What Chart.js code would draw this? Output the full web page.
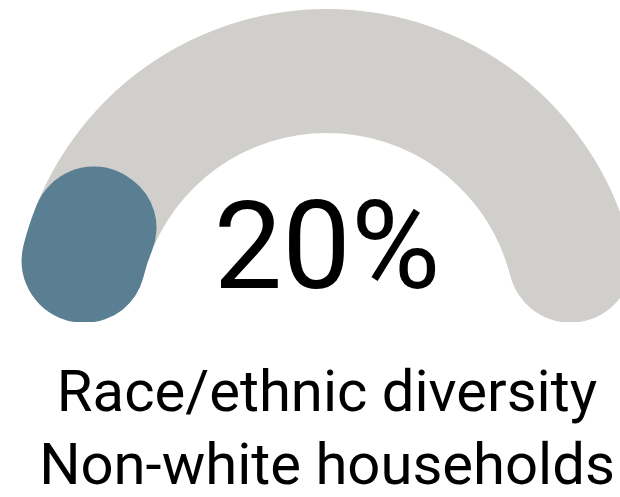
<!DOCTYPE html>
<html>
<head>
<meta charset="utf-8">
<script src="https://cdn.jsdelivr.net/npm/chart.js@4"></script>
<style>
    html, body { margin: 0; padding: 0; background: #fff; overflow: hidden; }
    body { width: 620px; height: 497px; position: relative; font-family: Roboto, sans-serif; }
    .gauge { position: absolute; left: 14px; top: 9px; width: 626px; height: 313px; }
    .gauge canvas { position: absolute; left: 0; top: 0; }
    #value { position: absolute; left: 0; width: 654px; top: 177px; text-align: center; font-size: 122px; line-height: 140px; color: #000; }
    .caption { position: absolute; left: 0; width: 654px; text-align: center; font-size: 58px; line-height: 60px; color: #000; white-space: nowrap; }
</style>
</head>
<body>
<div class="gauge"><canvas id="trackChart"></canvas></div>
<div class="gauge"><canvas id="valueChart"></canvas></div>
<div id="value"></div>
<div class="caption" id="line1" style="top: 361px;"></div>
<div class="caption" id="line2" style="top: 434px;"></div>
<script>
var gaugeValue = [20];
var gaugeMax = [100];
var captionLines = ['Race/ethnic diversity', 'Non-white households'];
var trackColor = '#d0cfcb';
var valueColor = '#5a7e92';

document.addEventListener('DOMContentLoaded', function () {
    document.getElementById('value').textContent = gaugeValue[0] + '%';
    document.getElementById('line1').textContent = captionLines[0];
    document.getElementById('line2').textContent = captionLines[1];

    // shared half-doughnut settings, both rings sit on the same radius
    function gaugeOptions() {
        return {
            responsive: true,
            maintainAspectRatio: false,
            animation: false,
            circumference: 180,
            rotation: -90,
            cutout: '60.4%',
            layout: { padding: 0 },
            plugins: { legend: { display: false }, tooltip: { enabled: false } }
        };
    }

    // grey track, full range
    new Chart(document.getElementById('trackChart').getContext('2d'), {
        type: 'doughnut',
        data: {
            datasets: [{
                data: gaugeMax,
                backgroundColor: [trackColor],
                borderWidth: 0,
                borderRadius: 62
            }]
        },
        options: gaugeOptions()
    });

    // value arc on top, the rest left transparent
    new Chart(document.getElementById('valueChart').getContext('2d'), {
        type: 'doughnut',
        data: {
            datasets: [{
                data: [gaugeValue[0], gaugeMax[0] - gaugeValue[0]],
                backgroundColor: [valueColor, 'rgba(0,0,0,0)'],
                borderWidth: 0,
                borderRadius: [62, 0]
            }]
        },
        options: gaugeOptions()
    });
});
</script>
</body>
</html>
